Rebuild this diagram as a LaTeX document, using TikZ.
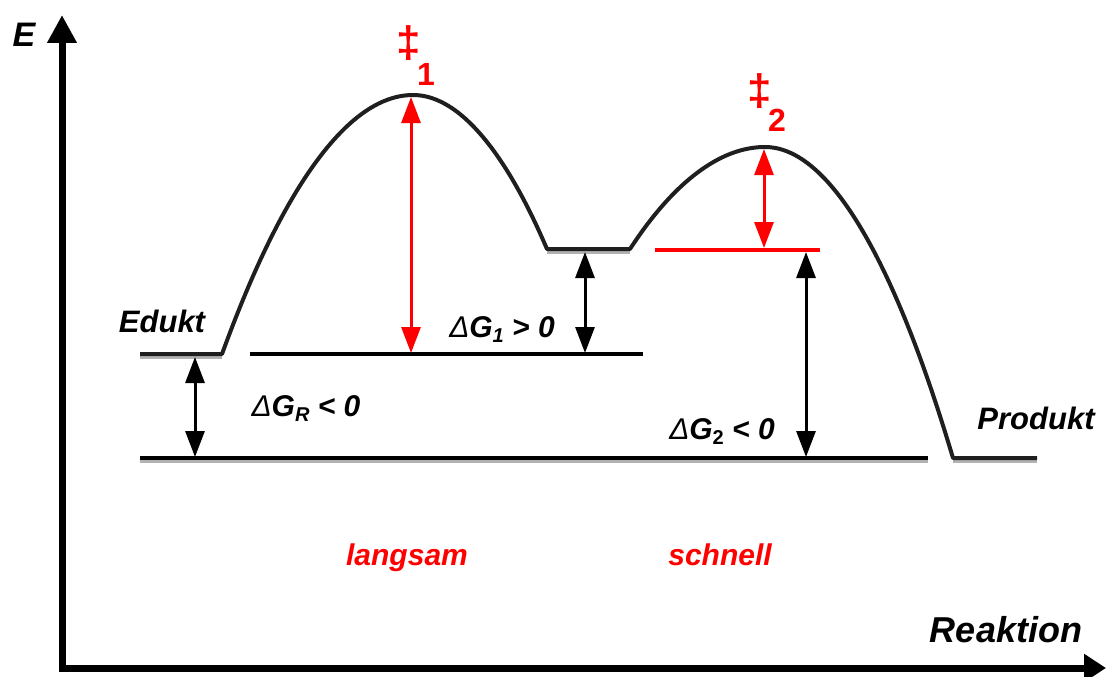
\documentclass[tikz,border=0pt]{standalone}
\usepackage{fontspec}
\setmainfont{Liberation Sans}
\usetikzlibrary{arrows.meta}
\newcommand{\lowsub}[1]{\raisebox{-5pt}{\fontsize{20}{20}\selectfont #1}}
\newcommand{\dG}{{\fontseries{m}\selectfont Δ}G}
\begin{document}
\begin{tikzpicture}[x=1pt,y=-1pt,
  lbl/.style={font=\fontsize{31}{31}\selectfont\bfseries\itshape, inner sep=0pt, anchor=base},
  dlbl/.style={font=\fontsize{30}{30}\selectfont\bfseries\itshape, inner sep=0pt, anchor=base},
  redlbl/.style={lbl, font=\fontsize{30}{30}\selectfont\bfseries\itshape, text=red},
  tslbl/.style={font=\fontsize{32}{32}\selectfont\bfseries, text=red, inner sep=0pt},
  axis/.style={line width=7pt, line join=miter,
    {Triangle[length=28pt,width=28pt]}-{Triangle[length=22pt,width=27pt]}},
  profile/.style={line width=4pt, black!88, line join=round},
  shadow/.style={line width=3pt, black!30},
  level/.style={line width=4pt, black},
  redlevel/.style={line width=4.5pt, red},
  dim/.style={line width=3pt,
    {Triangle[length=26pt,width=19pt]}-{Triangle[length=26pt,width=19pt]}},
  reddim/.style={dim, red}
]
\useasboundingbox (0,0) rectangle (1108,677);

% axes
\coordinate (org) at (62,668);
\coordinate (ytip) at (62,15);
\coordinate (xtip) at (1106,668);
\draw[axis] (ytip) -- (org) -- (xtip);
\node[lbl, font=\fontsize{34}{34}\selectfont\bfseries\itshape] (E) at (24,47) {E};
\node[lbl, font=\fontsize{36}{36}\selectfont\bfseries\itshape] (reak) at (1006,642) {Reaktion};

% profile points
\coordinate (edL) at (140,354);
\coordinate (edR) at (222,354);
\coordinate (ts1) at (413,95);
\coordinate (imL) at (547,249);
\coordinate (imR) at (630,249);
\coordinate (ts2) at (765,147);
\coordinate (prL) at (953,458);
\coordinate (prR) at (1037,458);

% shadows of flat segments
\draw[shadow] ([yshift=-3pt]edL) -- ([yshift=-3pt]edR);
\draw[shadow] ([yshift=-3pt]imL) -- ([yshift=-3pt]imR);
\draw[shadow] ([yshift=-3pt]prL) -- ([yshift=-3pt]prR);

% energy profile
\draw[profile] (edL) -- (edR) parabola bend (ts1) (imL) -- (imR)
  parabola bend (ts2) (prL) -- (prR);

% reference levels
\coordinate (l1a) at (250,354);
\coordinate (l1b) at (643,354);
\coordinate (l2a) at (140,458);
\coordinate (l2b) at (928,458);
\coordinate (rla) at (655,250);
\coordinate (rlb) at (820,250);
\draw[shadow] ([yshift=-3pt]l2a) -- ([yshift=-3pt]l2b);
\draw[level] (l1a) -- (l1b);
\draw[level] (l2a) -- (l2b);
\draw[redlevel] (rla) -- (rlb);

% dimension arrows
\coordinate (a1t) at (411,97);
\coordinate (a1b) at (411,353);
\coordinate (a2t) at (764,149);
\coordinate (a2b) at (764,248);
\coordinate (g1t) at (585,252);
\coordinate (g1b) at (585,353);
\coordinate (g2t) at (806,252);
\coordinate (g2b) at (806,457);
\coordinate (grt) at (195,357);
\coordinate (grb) at (195,457);
\draw[reddim] (a1t) -- (a1b);
\draw[reddim] (a2t) -- (a2b);
\draw[dim] (g1t) -- (g1b);
\draw[dim] (g2t) -- (g2b);
\draw[dim] (grt) -- (grb);

% labels
\node[lbl] (edukt) at (162,332) {Edukt};
\node[lbl] (produkt) at (1036,429) {Produkt};
\node[dlbl] (dgr) at (306,416) {\dG\lowsub{R} < 0};
\node[dlbl] (dg1) at (502,337) {\dG\lowsub{1} > 0};
\node[dlbl] (dg2) at (722,439) {\dG\lowsub{\upshape 2} < 0};
\node[redlbl] (langsam) at (407,565) {langsam};
\node[redlbl] (schnell) at (720,565) {schnell};

\node[tslbl, font=\fontsize{44}{44}\selectfont\bfseries] (dd1) at (409,43) {‡};
\node[tslbl, anchor=base] (n1) at (426,85) {1};
\node[tslbl, font=\fontsize{44}{44}\selectfont\bfseries] (dd2) at (760,91) {‡};
\node[tslbl, anchor=base] (n2) at (777,131) {2};
\end{tikzpicture}
\end{document}
